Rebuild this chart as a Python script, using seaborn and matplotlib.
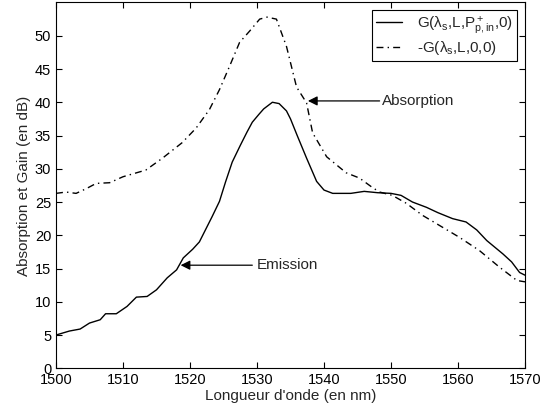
import numpy as np
import pandas as pd
import seaborn as sns
from matplotlib import pyplot as plt

# G(lambda_s, L, P+p,in, 0) - emission / gain curve
gain_wl = [1500, 1502, 1503.6, 1505, 1506.6, 1507.4, 1509, 1510.6, 1512, 1513.6,
           1515, 1516.6, 1518, 1519, 1520.4, 1521.4, 1523.3, 1524.4, 1525.3, 1526.3,
           1527.5, 1528.5, 1529.3, 1530.3, 1531, 1532.3, 1533.3, 1534.4, 1535, 1536,
           1537.4, 1538.9, 1540, 1541.3, 1544, 1546, 1548, 1550, 1551.5, 1553.2,
           1555.3, 1557, 1559.2, 1561.2, 1562.8, 1564.3, 1566.7, 1568, 1569.2, 1570]
gain_db = [5.0, 5.6, 5.9, 6.8, 7.3, 8.2, 8.2, 9.3, 10.7, 10.8,
           11.8, 13.6, 14.8, 16.6, 17.9, 19.0, 22.8, 25.1, 28.0, 31.0,
           33.5, 35.5, 37.0, 38.2, 39.0, 40.0, 39.8, 38.7, 37.5, 35.0,
           31.6, 28.1, 26.8, 26.3, 26.3, 26.6, 26.4, 26.3, 26.0, 25.0,
           24.2, 23.4, 22.5, 22.0, 20.8, 19.2, 17.2, 16.0, 14.4, 14.0]

# -G(lambda_s, L, 0, 0) - absorption curve
abs_wl = [1500, 1501.5, 1503, 1504.5, 1506, 1508, 1510, 1513.4, 1515.9, 1518.8,
          1520.9, 1522.9, 1524.4, 1525.9, 1527.4, 1528.9, 1530.4, 1531.5, 1532.9, 1534.4,
          1535.9, 1537.4, 1538.3, 1540.4, 1543.3, 1545.3, 1547.2, 1548.3, 1550.2, 1552.3,
          1554.7, 1557.7, 1560.2, 1563.2, 1566.2, 1568.8, 1570]
abs_db = [26.3, 26.5, 26.3, 27.0, 27.8, 27.9, 28.8, 29.8, 31.6, 33.9,
          36.1, 38.9, 41.9, 45.4, 49.0, 50.7, 52.5, 52.8, 52.5, 48.4,
          42.3, 39.9, 35.4, 31.8, 29.4, 28.6, 27.2, 26.5, 26.0, 24.8,
          23.0, 21.2, 19.7, 17.7, 15.2, 13.2, 13.0]

sns.set_style("ticks")
plt.rcParams['font.family'] = ['Liberation Sans', 'DejaVu Sans']
plt.rcParams['mathtext.fontset'] = 'custom'
plt.rcParams['mathtext.rm'] = 'Liberation Sans'
plt.rcParams['mathtext.it'] = 'Liberation Sans'

fig = plt.figure(figsize=(5.4, 4.16), dpi=100)
ax = fig.add_axes([0.1037, 0.1147, 0.8685, 0.8793])

sns.lineplot(x=gain_wl, y=gain_db, ax=ax, color='black', lw=1,
             label=r'G($\mathregular{\lambda_s}$,L,$\mathregular{P^+_{p,in}}$,0)')
sns.lineplot(x=abs_wl, y=abs_db, ax=ax, color='black', lw=1, linestyle=(0, (5, 3, 1, 3)),
             label=r'-G($\mathregular{\lambda_s}$,L,0,0)')

ax.set_xlim(1500, 1570)
ax.set_ylim(0, 55)
ax.set_xticks(np.arange(1500, 1571, 10))
ax.set_yticks(np.arange(0, 51, 5))
ax.tick_params(direction='in', top=True, right=True, length=4, width=0.8,
               labelsize=10.5, colors='black')
for s in ax.spines.values():
    s.set_linewidth(0.8)
    s.set_color('black')

ax.set_xlabel("Longueur d'onde (en nm)", fontsize=11, labelpad=1)
ax.set_ylabel("Absorption et Gain (en dB)", fontsize=11, labelpad=3)

leg = ax.legend(loc='upper right', bbox_to_anchor=(0.983, 0.979), borderaxespad=0,
                fancybox=False, framealpha=1, edgecolor='black', fontsize=11,
                handlelength=1.7, handletextpad=1.0, borderpad=0.25, labelspacing=0.2)
leg.get_frame().set_linewidth(0.8)

arrow = dict(arrowstyle='-|>', color='black', lw=0.9, mutation_scale=14,
             shrinkA=0, shrinkB=0)
ax.annotate('', xy=(1518.6, 15.5), xytext=(1529.3, 15.5), arrowprops=arrow)
ax.text(1530.0, 15.5, 'Emission', va='center', ha='left', fontsize=11)
ax.annotate('', xy=(1537.6, 40.2), xytext=(1548.3, 40.2), arrowprops=arrow)
ax.text(1548.6, 40.2, 'Absorption', va='center', ha='left', fontsize=11)

plt.savefig("out.png", dpi=100)
plt.close(fig)
